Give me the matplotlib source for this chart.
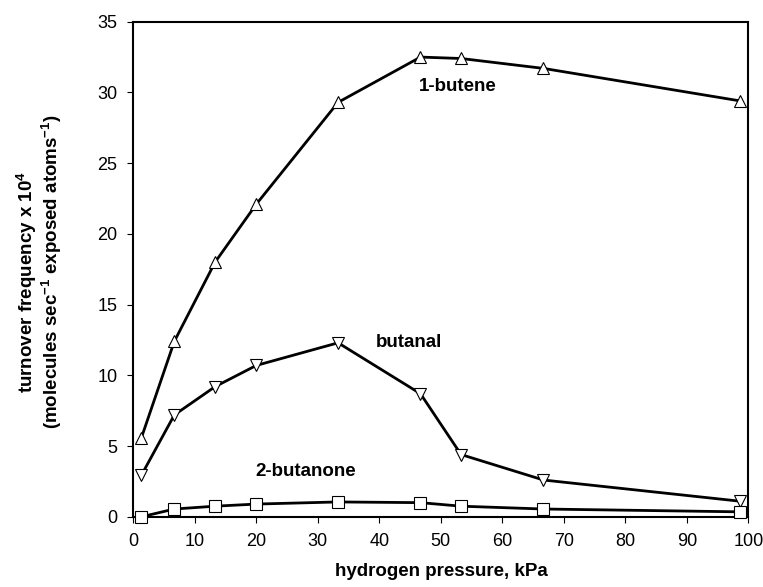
import numpy as np
import matplotlib
matplotlib.use("Agg")
import matplotlib.pyplot as plt

plt.rcParams['font.family'] = ['Liberation Sans', 'DejaVu Sans']
plt.rcParams['mathtext.fontset'] = 'custom'
plt.rcParams['mathtext.rm'] = 'Liberation Sans'
plt.rcParams['mathtext.bf'] = 'Liberation Sans:bold'
plt.rcParams['mathtext.default'] = 'bf'

# hydrogen pressure, kPa
pressure = [1.33, 6.67, 13.3, 20.0, 33.3, 46.7, 53.3, 66.7, 98.7]
# turnover frequency x 10^4
butene = [5.6, 12.4, 18.0, 22.1, 29.3, 32.5, 32.4, 31.7, 29.4]
butanal = [2.95, 7.2, 9.2, 10.7, 12.3, 8.7, 4.4, 2.6, 1.1]
butanone = [0.0, 0.55, 0.75, 0.9, 1.05, 1.0, 0.75, 0.55, 0.35]

series_names = ['1-butene', 'butanal', '2-butanone']
markers = ['^', 'v', 's']
label_pos = [(52.8, 30.4), (44.8, 12.35), (28.1, 3.2)]

fig = plt.figure(figsize=(7.63, 5.87), dpi=100)
ax = fig.add_axes([0.1747, 0.1196, 0.806, 0.8434])

for vals, m, name, (lx, ly) in zip([butene, butanal, butanone], markers,
                                   series_names, label_pos):
    ax.plot(pressure, vals, color='black', lw=2.0, marker=m, markersize=8,
            markerfacecolor='white', markeredgecolor='black',
            markeredgewidth=0.8, clip_on=False, zorder=3)
    ax.text(lx, ly, name, fontsize=13.5, fontweight='bold',
            ha='center', va='center')

ax.set_xlim(0, 100)
ax.set_ylim(0, 35)
ax.set_xticks(np.arange(0, 101, 10))
ax.set_yticks(np.arange(0, 36, 5))
ax.tick_params(direction='out', length=4.5, width=0.8, pad=7, labelsize=13)
for s in ax.spines.values():
    s.set_linewidth(1.5)

fig.text(441 / 763, 1 - 571 / 587, 'hydrogen pressure, kPa', fontsize=13.5,
         fontweight='bold', ha='center', va='center')
fig.text(27 / 763, 1 - 282 / 587, r'turnover frequency x 10$^{4}$',
         rotation=90, fontsize=13.5, fontweight='bold',
         ha='center', va='center')
fig.text(52 / 763, 1 - 272 / 587, r'(molecules sec$^{-1}$ exposed atoms$^{-1}$)',
         rotation=90, fontsize=13.5, fontweight='bold',
         ha='center', va='center')

fig.savefig('out.png', dpi=100)
